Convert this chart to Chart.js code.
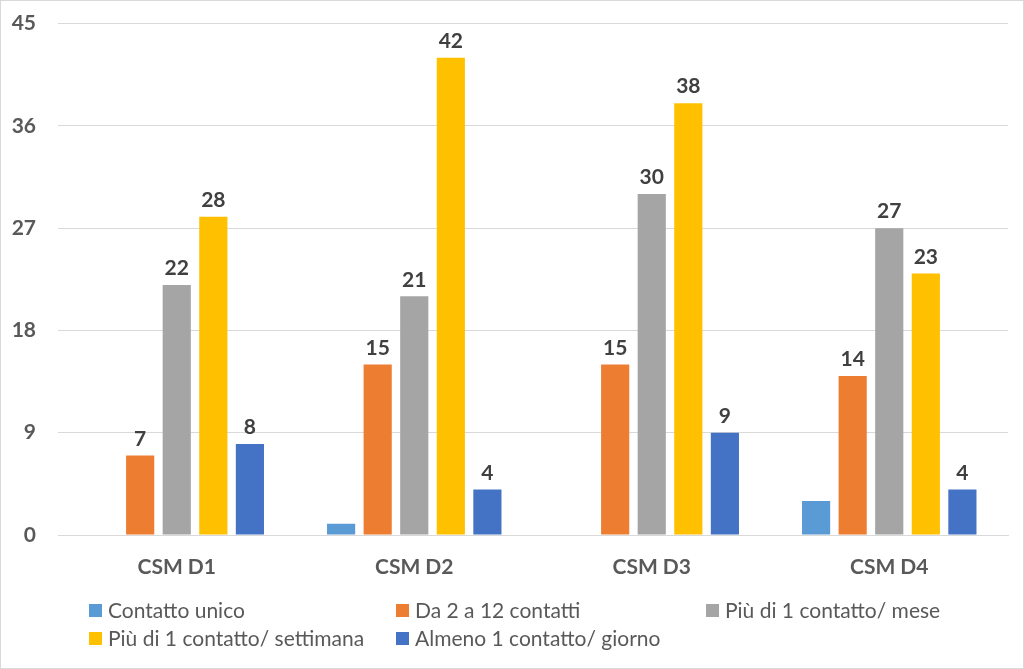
<!DOCTYPE html>
<html>
<head>
<meta charset="utf-8">
<script src="https://cdn.jsdelivr.net/npm/chart.js@4/dist/chart.umd.min.js"></script>
<style>
    html, body { margin: 0; padding: 0; background: #fff; }
    #wrap { width: 1024px; height: 669px; box-sizing: border-box; border: 1px solid #d9d9d9; position: relative; overflow: hidden; }
    canvas { display: block; margin-top: -12px; }
</style>
</head>
<body>
<div id="wrap"><canvas id="chart" width="1022" height="679"></canvas></div>
<script>
const categories = ['CSM D1', 'CSM D2', 'CSM D3', 'CSM D4'];
const seriesNames = ['Contatto unico', 'Da 2 a 12 contatti', 'Più di 1 contatto/ mese', 'Più di 1 contatto/ settimana', 'Almeno 1 contatto/ giorno'];
const contattoUnico = [0, 1, 0, 3];
const da2a12 = [7, 15, 15, 14];
const piuMese = [22, 21, 30, 27];
const piuSettimana = [28, 42, 38, 23];
const almenoGiorno = [8, 4, 9, 4];
const yTicks = [0, 9, 18, 27, 36, 45];

const colors = ['#5B9BD5', '#ED7D31', '#A5A5A5', '#FFC000', '#4472C4'];
const showLabels = [false, true, true, true, true]; // first series has no labels in the original
const allValues = [contattoUnico, da2a12, piuMese, piuSettimana, almenoGiorno];

const FONT = 'Lato, "Open Sans", sans-serif';

// value labels above each bar
const barLabels = {
    id: 'barLabels',
    afterDatasetsDraw(chart) {
        const ctx = chart.ctx;
        ctx.save();
        ctx.font = 'bold 21px ' + FONT;
        ctx.fillStyle = '#404040';
        ctx.textAlign = 'center';
        ctx.textBaseline = 'bottom';
        chart.data.datasets.forEach((ds, i) => {
            if (!showLabels[i]) return;
            chart.getDatasetMeta(i).data.forEach((bar, j) => {
                if (!ds.data[j]) return;
                ctx.fillText(ds.data[j], bar.x, bar.y - 6);
            });
        });
        ctx.restore();
    }
};

// legend laid out in a 3 column grid like the original
const gridLegend = {
    id: 'gridLegend',
    afterDraw(chart) {
        const ctx = chart.ctx;
        const colX = [88, 395, 705];
        const rowY = [621, 649]; // canvas is shifted up 12px
        ctx.save();
        ctx.font = '21px ' + FONT;
        ctx.textBaseline = 'middle';
        chart.data.datasets.forEach((ds, i) => {
            const x = colX[i % 3];
            const y = rowY[Math.floor(i / 3)];
            ctx.fillStyle = ds.backgroundColor;
            ctx.fillRect(x, y - 6, 13, 13);
            ctx.fillStyle = '#595959';
            ctx.fillText(ds.label, x + 19, y + 1);
        });
        ctx.restore();
    }
};

new Chart(document.getElementById('chart'), {
    type: 'bar',
    data: {
        labels: categories,
        datasets: seriesNames.map((name, i) => ({
            label: name,
            data: allValues[i],
            backgroundColor: colors[i],
            borderWidth: 0,
            categoryPercentage: 0.77,
            barPercentage: 0.77
        }))
    },
    options: {
        responsive: false,
        animation: false,
        layout: { padding: { top: 10, right: 15, left: 0, bottom: 0 } },
        scales: {
            x: {
                grid: { display: false, drawTicks: false },
                border: { color: '#d9d9d9' },
                ticks: { color: '#595959', font: { family: FONT, size: 21, weight: 'bold' }, padding: 20 },
                afterFit: scale => { scale.height = 133; }
            },
            y: {
                min: 0,
                max: 45,
                afterBuildTicks: scale => { scale.ticks = yTicks.map(v => ({ value: v })); },
                grid: { color: '#d9d9d9', drawTicks: false },
                border: { display: false },
                ticks: { color: '#595959', font: { family: FONT, size: 21, weight: 'bold' }, padding: 22 },
                afterFit: scale => { scale.width = 57; }
            }
        },
        plugins: {
            legend: { display: false },
            tooltip: { enabled: false }
        }
    },
    plugins: [barLabels, gridLegend]
});
</script>
</body>
</html>
